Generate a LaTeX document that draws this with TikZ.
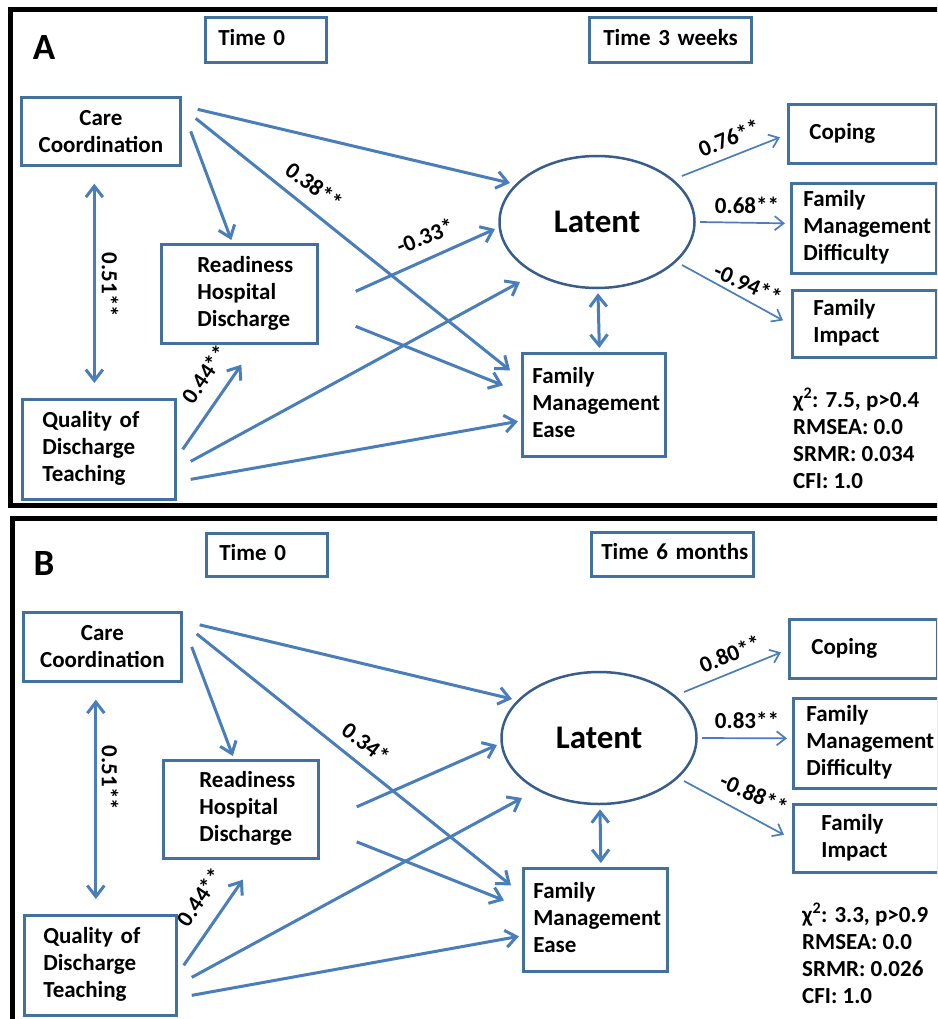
\documentclass[tikz,border=0pt]{standalone}
\usepackage{fontspec}
\setmainfont{Carlito}
\usetikzlibrary{shapes.geometric,arrows.meta,calc}
\definecolor{boxblue}{HTML}{41719C}
\definecolor{ellblue}{HTML}{385D8A}
\definecolor{arrblue}{HTML}{4A7EBB}
\newcommand\mybf{\fontsize{23}{27}\selectfont\bfseries}
\newcommand\bbox[7]{\node[bxs, text width=#4pt, minimum height=#5pt] (#1) at (#2,#3) {\hspace*{#6pt}\begin{tabular}{@{}l@{}}#7\end{tabular}};}
\begin{document}
\begin{tikzpicture}[x=1pt,y=-1pt,
  bxs/.style={draw=boxblue, line width=2.7pt, rectangle, anchor=north west, align=left, inner xsep=0pt, inner ysep=0pt, font=\mybf},
  ell/.style={draw=ellblue, line width=2.5pt, ellipse, minimum width=195pt, minimum height=132pt, inner sep=0pt, font=\fontsize{33}{36}\selectfont\bfseries},
  arr/.style={draw=arrblue, line width=3pt, -{Straight Barb[length=11pt,width=17pt]}},
  darr/.style={draw=arrblue, line width=3pt, {Straight Barb[length=11pt,width=17pt]}-{Straight Barb[length=11pt,width=17pt]}},
  thin/.style={draw=arrblue, line width=1.7pt, -{Straight Barb[length=9pt,width=14pt]}},
  lbl/.style={font=\mybf, inner sep=0pt},
  stat/.style={font=\mybf, align=left, anchor=west, inner sep=0pt},
  panel/.style={draw=black, line width=5pt},
  plabel/.style={font=\fontsize{37}{40}\selectfont\bfseries, inner sep=0pt}
]
\useasboundingbox (0,0) rectangle (937,1019);
\clip (0,0) rectangle (937,1019);
\fill[white] (0,0) rectangle (937,1019);
% frames
\draw[panel] (10,9.5) rectangle (990,505);
\draw[panel] (12,518) rectangle (990,1060);

% ================= Panel A =================
\node[plabel] (pa) at (44,48) {A};
\bbox{at0}{204}{16}{121}{45}{13}{Time 0}
\bbox{at1}{588}{16}{162}{45}{14}{Time 3 weeks}
\node[bxs, align=center, text width=159pt, minimum height=68pt] (acc) at (20,96) {Care\\Coordination};
\bbox{arhd}{160}{243}{156}{99}{36}{Readiness\\Hospital\\Discharge}
\bbox{aqdt}{21}{398}{153}{100}{20}{Quality of\\Discharge\\Teaching}
\bbox{afme}{521}{352}{143}{103}{10}{Family\\Management\\Ease}
\bbox{acop}{787}{103}{148}{59}{21}{Coping}
\bbox{afmd}{790}{182}{145}{90}{12}{Family\\Management\\Difficulty}
\bbox{afi}{791}{289}{144}{67}{21}{Family\\Impact}
\node[ell] (alat) at (597,222) {Latent};

\draw[arr] ($(acc.east)+(16,-22)$) -- ($(alat.center)+(-87,-39)$);
\draw[arr] ($(acc.east)+(14,-13)$) -- ($(afme.west)+(-11,-34.5)$);
\draw[arr] ($(acc.east)+(9,0)$) -- ($(arhd.north)+(-8,-3)$);
\draw[arr] ($(arhd.east)+(37,-2.5)$) -- ($(alat.center)+(-102,7)$);
\draw[arr] ($(arhd.east)+(37,32.5)$) -- ($(afme.west)+(-18,-19.5)$);
\draw[arr] ($(aqdt.east)+(6,0)$) -- ($(arhd.south)+(2,20)$);
\draw[arr] ($(aqdt.east)+(14,12)$) -- ($(alat.center)+(-77,60)$);
\draw[arr] ($(aqdt.east)+(14,30)$) -- ($(afme.west)+(-3,16.5)$);
\draw[darr] ($(acc.south)+(-6.5,17)$) -- ($(aqdt.north)+(-4.5,-15)$);
\draw[darr] ($(alat.south)+(1,4)$) -- ($(afme.north)+(5.5,-4)$);
\draw[thin] ($(alat.center)+(85,-46)$) -- ($(acop.west)+(-7,3.5)$);
\draw[thin] ($(alat.center)+(103,0)$) -- ($(afmd.west)+(-5,-5)$);
\draw[thin] ($(alat.center)+(85,43)$) -- ($(afi.west)+(-8,-3.5)$);

\node[lbl, rotate=-37] (la1) at (314,186) {0.38**};
\node[lbl, rotate=22] (la2) at (425,236) {-0.33*};
\node[lbl, rotate=-90] (la3) at (110,285) {0.51**};
\node[lbl, rotate=56] (la4) at (205,374) {0.44**};
\node[lbl, rotate=22] (la5) at (729,138) {0.76**};
\node[lbl] (la6) at (747,205) {0.68**};
\node[lbl, rotate=-24] (la7) at (748,284) {-0.94**};
\node[stat] (afit) at (793,438) {χ\textsuperscript{2}: 7.5, p>0.4\\RMSEA: 0.0\\SRMR: 0.034\\CFI: 1.0};

% ================= Panel B =================
\begin{scope}[shift={(0,515)}]
\node[plabel] (pb) at (44,48) {B};
\bbox{bt0}{205}{17}{121}{43}{13}{Time 0}
\bbox{bt1}{590}{16}{162}{44}{10}{Time 6 months}
\node[bxs, align=center, text width=158pt, minimum height=69pt] (bcc) at (22,96) {Care\\Coordination};
\bbox{brhd}{162}{244}{155}{98}{36}{Readiness\\Hospital\\Discharge}
\bbox{bqdt}{23}{399}{152}{100}{19}{Quality of\\Discharge\\Teaching}
\bbox{bfme}{522}{352}{144}{103}{10}{Family\\Management\\Ease}
\bbox{bcop}{788}{103}{148}{59}{22}{Coping}
\bbox{bfmd}{792}{182}{145}{90}{13}{Family\\Management\\Difficulty}
\bbox{bfi}{792}{288}{145}{68}{28}{Family\\Impact}
\node[ell] (blat) at (599,223) {Latent};

\draw[arr] ($(bcc.east)+(17,-22)$) -- ($(blat.center)+(-87,-39)$);
\draw[arr] ($(bcc.east)+(14,-13)$) -- ($(bfme.west)+(-11,-34.5)$);
\draw[arr] ($(bcc.east)+(9,0)$) -- ($(brhd.north)+(-8,-3)$);
\draw[arr] ($(brhd.east)+(37,-2.5)$) -- ($(blat.center)+(-102,7)$);
\draw[arr] ($(brhd.east)+(37,32.5)$) -- ($(bfme.west)+(-18,-19.5)$);
\draw[arr] ($(bqdt.east)+(6,0)$) -- ($(brhd.south)+(2,20)$);
\draw[arr] ($(bqdt.east)+(14,12)$) -- ($(blat.center)+(-77,60)$);
\draw[arr] ($(bqdt.east)+(14,30)$) -- ($(bfme.west)+(-3,16.5)$);
\draw[darr] ($(bcc.south)+(-6.5,17)$) -- ($(bqdt.north)+(-4.5,-15)$);
\draw[darr] ($(blat.south)+(1,4)$) -- ($(bfme.north)+(5.5,-4)$);
\draw[thin] ($(blat.center)+(85,-46)$) -- ($(bcop.west)+(-7,3.5)$);
\draw[thin] ($(blat.center)+(103,0)$) -- ($(bfmd.west)+(-5,-5)$);
\draw[thin] ($(blat.center)+(85,43)$) -- ($(bfi.west)+(-8,-3.5)$);

\node[lbl, rotate=-37] (lb1) at (366,228) {0.34*};
\node[lbl, rotate=-90] (lb3) at (110,263) {0.51**};
\node[lbl, rotate=56] (lb4) at (200,382) {0.44**};
\node[lbl, rotate=22] (lb5) at (730,139) {0.80**};
\node[lbl] (lb6) at (747,205) {0.83**};
\node[lbl, rotate=-24] (lb7) at (754,279) {-0.88**};
\node[stat] (bfit) at (802,438) {χ\textsuperscript{2}: 3.3, p>0.9\\RMSEA: 0.0\\SRMR: 0.026\\CFI: 1.0};
\end{scope}
\end{tikzpicture}
\end{document}
